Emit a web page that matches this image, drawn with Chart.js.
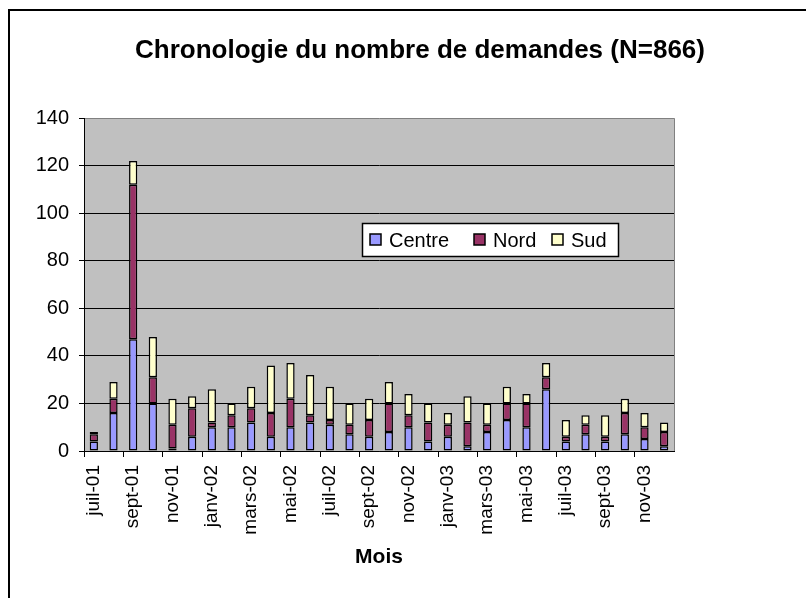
<!DOCTYPE html>
<html>
<head>
<meta charset="utf-8">
<script src="https://cdn.jsdelivr.net/npm/chart.js@4.4.0/dist/chart.umd.min.js"></script>
<style>
  html, body { margin: 0; padding: 0; background: #fff; overflow: hidden; }
  #wrap { width: 806px; height: 598px; overflow: hidden; position: relative; }
  canvas { position: absolute; left: 0; top: 0; }
</style>
</head>
<body>
<div id="wrap"><canvas id="chart" width="840" height="598" style="width:840px;height:598px"></canvas></div>
<script>
const months = ['juil-01', 'août-01', 'sept-01', 'oct-01', 'nov-01', 'déc-01',
  'janv-02', 'févr-02', 'mars-02', 'avr-02', 'mai-02', 'juin-02',
  'juil-02', 'août-02', 'sept-02', 'oct-02', 'nov-02', 'déc-02',
  'janv-03', 'févr-03', 'mars-03', 'avr-03', 'mai-03', 'juin-03',
  'juil-03', 'août-03', 'sept-03', 'oct-03', 'nov-03', 'déc-03'];
const centre = [4, 16, 47, 20, 1, 6, 10, 10, 12, 6, 10, 12, 11, 7, 6, 8, 10, 4, 6, 2, 8, 13, 10, 26, 4, 7, 4, 7, 5, 2];
const nord   = [3, 6, 65, 11, 10, 12, 2, 5, 6, 10, 12, 3, 2, 4, 7, 12, 5, 8, 5, 10, 3, 7, 10, 5, 2, 4, 2, 9, 5, 6];
const sud    = [1, 7, 10, 17, 11, 5, 14, 5, 9, 20, 15, 17, 14, 9, 9, 9, 9, 8, 5, 11, 9, 7, 4, 6, 7, 4, 9, 6, 6, 4];
const yTicks = [0, 20, 40, 60, 80, 100, 120, 140];

const FONT = "'Liberation Sans', Arial, sans-serif";

// silver plot background + outer frame + legend box inside the plot
const decor = {
  id: 'decor',
  beforeDraw(chart) {
    const { ctx, chartArea: a } = chart;
    ctx.save();
    ctx.fillStyle = '#fff';
    ctx.fillRect(0, 0, chart.width, chart.height);
    ctx.fillStyle = '#C0C0C0';
    ctx.fillRect(a.left, a.top, a.right - a.left, a.bottom - a.top);
    ctx.restore();
  },
  afterDraw(chart) {
    const { ctx, chartArea: a } = chart;
    ctx.save();
    // right edge of plot
    ctx.strokeStyle = '#808080';
    ctx.lineWidth = 1;
    ctx.beginPath();
    ctx.moveTo(Math.round(a.right) + 0.5, a.top);
    ctx.lineTo(Math.round(a.right) + 0.5, a.bottom);
    ctx.stroke();
    // outer frame
    ctx.strokeStyle = '#000';
    ctx.lineWidth = 2;
    ctx.strokeRect(9, 10, 900, 900);
    // legend
    const lx = 362, ly = 223, lw = 256, lh = 33;
    ctx.fillStyle = '#fff';
    ctx.fillRect(lx, ly, lw, lh);
    ctx.lineWidth = 1.5;
    ctx.strokeRect(lx + 0.5, ly + 0.5, lw, lh);
    const xs = [370, 474, 552];
    ctx.font = '20px ' + FONT;
    ctx.textBaseline = 'middle';
    chart.data.datasets.forEach((ds, i) => {
      ctx.fillStyle = ds.backgroundColor;
      ctx.fillRect(xs[i], 234, 11, 11);
      ctx.lineWidth = 1.5;
      ctx.strokeStyle = '#000';
      ctx.strokeRect(xs[i], 234, 11, 11);
      ctx.fillStyle = '#000';
      ctx.fillText(ds.label, xs[i] + 19, 241);
    });
    ctx.restore();
  }
};

const ctx = document.getElementById('chart').getContext('2d');
const myChart = new Chart(ctx, {
  type: 'bar',
  data: {
    labels: months,
    datasets: [
      { label: 'Centre', data: centre, backgroundColor: '#9999FF' },
      { label: 'Nord', data: nord, backgroundColor: '#993366' },
      { label: 'Sud', data: sud, backgroundColor: '#FFFFCC' }
    ]
  },
  options: {
    responsive: false,
    animation: false,
    layout: { padding: 0 },
    datasets: {
      bar: {
        borderColor: '#000',
        borderWidth: 1.5,
        borderSkipped: false,
        categoryPercentage: 1,
        barPercentage: 0.42
      }
    },
    plugins: {
      legend: { display: false },
      tooltip: { enabled: false },
      title: {
        display: true,
        text: 'Chronologie du nombre de demandes (N=866)',
        color: '#000',
        font: { family: FONT, size: 26, weight: 'bold', lineHeight: 1.2 },
        padding: { top: 35, bottom: 52 }
      }
    },
    scales: {
      x: {
        stacked: true,
        grid: {
          offset: true,
          drawOnChartArea: false,
          tickLength: 6,
          color: c => (c.index % 2 === 0 ? '#000' : 'rgba(0,0,0,0)')
        },
        border: { display: true, color: '#000', width: 1 },
        ticks: {
          autoSkip: false,
          minRotation: 90,
          maxRotation: 90,
          padding: 8,
          color: '#000',
          font: { family: FONT, size: 19 },
          callback: (v, i) => (i % 2 === 0 ? months[i] : '')
        },
        title: {
          display: true,
          text: 'Mois',
          color: '#000',
          font: { family: FONT, size: 21, weight: 'bold', lineHeight: 1.2 },
          padding: { top: 0, bottom: 28 }
        },
        afterFit: s => { s.height = 147; }
      },
      y: {
        stacked: true,
        min: 0,
        max: 140,
        afterBuildTicks: s => { s.ticks = yTicks.map(v => ({ value: v })); },
        grid: {
          color: c => (c.tick && c.tick.value === 140 ? '#808080' : '#000'),
          tickColor: '#000',
          tickLength: 5,
          lineWidth: 1
        },
        border: { display: true, color: '#000', width: 1 },
        ticks: {
          padding: 10,
          color: '#000',
          font: { family: FONT, size: 20 }
        },
        afterFit: s => { s.width = 84; }
      },
      spacer: {
        position: 'right',
        display: true,
        grid: { display: false },
        border: { display: false },
        ticks: { display: false },
        afterFit: s => { s.width = 166; }
      }
    }
  },
  plugins: [decor]
});
</script>
</body>
</html>
